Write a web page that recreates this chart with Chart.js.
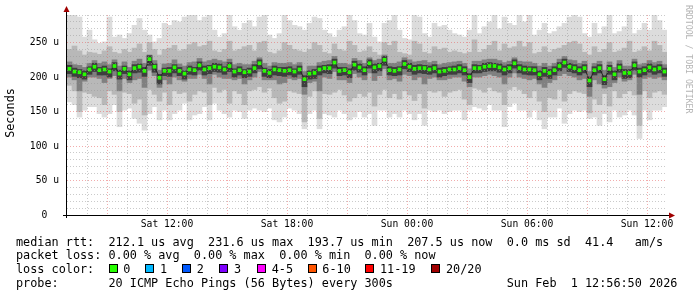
<!DOCTYPE html>
<html>
<head>
<meta charset="utf-8">
<script src="https://cdn.jsdelivr.net/npm/chart.js@4"></script>
<style>
  html, body { margin: 0; padding: 0; background: #fff; }
  #wrap { width: 697px; height: 297px; }
</style>
</head>
<body>
<div id="wrap"><canvas id="smoke" width="697" height="297"></canvas></div>
<script>
// SmokePing style graph, last 30 hours (Sat 07:00 .. Sun 13:00), one slot per 15 minutes
// values in microseconds

const median = [
  212,208,207,204,211,215,210,211,208,216,205,212,204,213,215,209,226,215,199,209,209,214,209,205,211,210,217,211,213,215,
  214,211,216,208,210,207,208,213,220,209,206,211,210,209,210,208,211,197,205,206,211,213,213,221,209,210,207,218,214,210,
  220,214,216,225,210,209,211,219,215,212,213,213,211,213,208,209,211,211,213,210,200,213,213,215,216,216,214,211,213,220,
  213,211,211,210,204,209,206,210,216,221,215,213,210,213,195,210,213,197,212,204,214,206,206,217,208,210,214,211,213,208
];

// outer smoke (min .. max of the 20 pings)
const outerHi = [
  290,290,287,258,268,254,249,251,287,258,261,256,263,275,285,268,261,251,256,278,275,282,280,287,290,290,282,287,290,268,
  258,263,290,273,268,278,282,273,287,290,261,256,263,290,282,275,273,268,278,287,285,268,263,258,268,273,290,282,263,261,
  278,258,251,278,282,290,268,256,254,290,287,263,258,278,273,275,268,263,261,258,268,290,263,273,280,290,270,287,278,275,
  290,280,290,261,268,278,263,266,273,278,287,290,287,263,258,278,263,273,290,263,266,273,290,263,268,278,268,290,282,268
];
const outerLo = [
  164,160,142,152,157,157,147,142,147,160,128,152,155,140,133,123,147,157,138,152,138,147,152,162,138,145,147,157,138,162,
  152,147,142,152,150,140,152,155,152,150,155,138,135,142,155,152,147,125,147,152,125,147,145,142,152,147,138,142,150,142,
  147,130,152,152,142,147,142,152,147,138,147,130,152,150,152,147,150,152,152,138,152,157,155,152,160,152,152,128,157,162,
  152,152,142,152,138,125,142,142,155,133,147,152,150,152,140,142,130,147,135,152,142,145,152,145,111,152,138,152,152,157
];

// middle smoke
const midHi = [
  240,245,238,232,236,235,233,238,244,236,234,240,236,242,248,236,250,240,232,240,242,246,238,240,247,250,244,246,252,238,
  236,240,252,238,240,244,246,238,250,252,236,234,238,250,246,240,238,236,240,250,246,236,234,248,240,238,252,246,236,238,
  244,236,232,250,246,252,236,234,232,252,248,236,234,244,240,242,236,238,236,234,236,254,236,240,246,252,238,248,242,244,
  252,244,250,234,236,244,236,240,242,246,250,252,248,236,232,244,236,240,250,236,238,242,252,236,238,244,238,252,246,236
];
const midLo = [
  188,180,150,178,176,172,170,160,180,175,150,178,176,162,168,145,182,175,165,178,160,180,176,178,165,175,180,178,160,185,
  178,182,162,180,176,160,180,182,186,178,184,170,162,165,180,178,176,135,172,180,140,176,175,178,182,174,165,170,176,172,
  178,158,175,182,170,176,168,180,174,166,176,155,180,178,180,172,178,180,182,168,160,184,182,178,185,180,178,160,182,186,
  182,176,170,180,165,150,170,168,182,165,176,180,178,176,148,168,160,176,158,180,170,176,180,174,130,180,170,178,180,175
];

// inner smoke
const innerHi = [
  222,218,217,214,220,224,220,222,218,225,216,222,214,223,226,220,232,224,210,219,220,225,219,216,221,222,227,222,224,226,
  224,222,226,218,220,218,218,223,228,220,216,221,220,220,221,218,221,208,216,216,221,223,224,230,220,220,218,227,224,220,
  228,224,226,232,220,220,222,228,225,222,223,224,221,223,218,220,221,222,223,220,212,223,223,225,226,226,224,221,223,228,
  223,222,222,220,216,220,216,220,226,230,225,224,220,223,208,220,223,210,222,214,224,216,216,226,218,220,224,221,223,218
];
const innerLo = [
  200,196,180,194,200,200,198,192,198,202,180,198,192,196,198,185,210,202,185,196,190,200,196,194,198,198,204,198,190,204,
  200,198,198,196,198,190,196,200,208,196,196,196,190,192,198,196,198,175,192,194,180,200,198,208,196,196,192,205,200,196,
  206,195,202,212,196,198,194,204,202,196,200,190,198,200,196,196,198,200,200,194,186,200,200,202,204,202,200,190,200,206,
  200,198,196,198,190,185,192,196,202,205,202,200,196,198,172,196,190,184,186,192,200,194,196,204,175,198,200,198,200,196
];

// darkest smoke right around the median
const coreHi = [
  217,213,211,209,215,220,214,216,212,221,210,216,209,218,219,214,231,219,204,213,214,218,214,209,216,214,222,216,217,220,
  219,215,221,212,215,211,213,218,225,213,211,216,214,214,215,212,216,202,209,211,216,217,218,226,214,214,212,223,219,215,
  225,219,220,230,215,214,215,224,220,217,218,217,216,218,213,214,215,216,218,215,205,218,217,220,221,220,219,216,218,225,
  218,216,215,215,209,214,211,215,221,226,220,218,215,218,200,215,218,202,217,209,219,211,211,222,213,215,219,216,218,213
];
const coreLo = [
  205,201,199,197,204,208,203,203,200,209,197,205,196,206,207,201,217,207,190,202,201,206,202,197,204,203,210,203,205,208,
  207,204,208,200,203,199,201,206,212,201,199,203,202,201,203,200,204,186,197,198,203,206,205,213,202,203,199,210,207,203,
  213,206,209,217,203,202,203,212,208,204,206,205,204,206,200,202,204,204,206,203,192,206,206,208,209,209,207,203,206,213,
  206,204,203,203,196,201,198,203,209,214,208,206,203,206,186,203,206,189,204,196,207,198,199,210,200,203,207,204,206,201
];

// hours after Sat 07:00 that carry a time label
const tickHours = [5, 11, 17, 23, 29];
const tickLabels = ['Sat 12:00', 'Sat 18:00', 'Sun 00:00', 'Sun 06:00', 'Sun 12:00'];

const legendLines = [
  'median rtt:  212.1 us avg  231.6 us max  193.7 us min  207.5 us now  0.0 ms sd  41.4   am/s',
  'packet loss: 0.00 % avg  0.00 % max  0.00 % min  0.00 % now',
  'loss color:',
  'probe:       20 ICMP Echo Pings (56 Bytes) every 300s                Sun Feb  1 12:56:50 2026'
];
const lossLabels = ['0', '1', '2', '3', '4-5', '6-10', '11-19', '20/20'];
const lossColors = ['#26ff00', '#00b8ff', '#0059ff', '#7e00ff', '#ff00ff', '#ff5500', '#ff0000', '#a00000'];

const MONO = "'DejaVu Sans Mono', monospace";
const minorGrid = 'rgba(150,150,150,0.5)';
const majorGrid = 'rgba(230,90,90,0.5)';
const none = 'rgba(0,0,0,0)';
const startHour = 7;
const slotsPerHour = 4;

Chart.defaults.font.family = MONO;
Chart.defaults.color = '#000';

const slots = median.map((_, i) => {
  const m = (startHour * 60 + i * 15) % 1440;
  return String(Math.floor(m / 60)).padStart(2, '0') + ':' + String(m % 60).padStart(2, '0');
});

function band(lo, hi) {
  return lo.map((v, i) => [v, hi[i]]);
}

const barCommon = {
  type: 'bar',
  grouped: false,
  categoryPercentage: 1,
  barPercentage: 1,
  borderWidth: 0
};

// vertical grid at slot boundaries: hour lines, red every third hour
function xGridColor(c) {
  const i = c.index;
  if (i === undefined || i === 0 || i >= median.length || i % slotsPerHour) return none;
  return (startHour + i / slotsPerHour) % 3 === 0 ? majorGrid : minorGrid;
}

// axes, arrows, rotated texts and the legend under the plot
const decorations = {
  id: 'decorations',
  afterDraw(chart) {
    const ctx = chart.ctx;
    const a = chart.chartArea;
    ctx.save();

    ctx.strokeStyle = '#000';
    ctx.lineWidth = 1;
    ctx.beginPath();
    ctx.moveTo(a.left - 0.5, a.bottom + 3);
    ctx.lineTo(a.left - 0.5, a.top - 6);
    ctx.moveTo(a.left - 4, a.bottom + 0.5);
    ctx.lineTo(a.right + 5, a.bottom + 0.5);
    ctx.stroke();

    ctx.fillStyle = '#a00000';
    ctx.beginPath();
    ctx.moveTo(a.left - 0.5, a.top - 9);
    ctx.lineTo(a.left - 3.5, a.top - 3);
    ctx.lineTo(a.left + 2.5, a.top - 3);
    ctx.closePath();
    ctx.fill();
    ctx.beginPath();
    ctx.moveTo(a.right + 8, a.bottom + 0.5);
    ctx.lineTo(a.right + 2, a.bottom - 2.5);
    ctx.lineTo(a.right + 2, a.bottom + 3.5);
    ctx.closePath();
    ctx.fill();

    // unit label
    ctx.fillStyle = '#000';
    ctx.font = '11.8px ' + MONO;
    ctx.textAlign = 'center';
    ctx.textBaseline = 'middle';
    ctx.save();
    ctx.translate(11, 113);
    ctx.rotate(-Math.PI / 2);
    ctx.fillText('Seconds', 0, 0);
    ctx.restore();

    // watermark
    ctx.save();
    ctx.fillStyle = '#b4b4b4';
    ctx.font = '8.2px ' + MONO;
    ctx.textAlign = 'left';
    ctx.translate(688, 5);
    ctx.rotate(Math.PI / 2);
    ctx.fillText('RRDTOOL / TOBI OETIKER', 0, 0);
    ctx.restore();

    // legend
    ctx.font = '11.82px ' + MONO;
    ctx.textAlign = 'left';
    ctx.textBaseline = 'alphabetic';
    const baselines = [245.5, 259.3, 273.1, 286.9];
    legendLines.forEach((t, i) => ctx.fillText(t, 16, baselines[i]));

    const labelX = [123.3, 160, 196.7, 234, 271.7, 322.3, 380, 446];
    lossLabels.forEach((t, i) => {
      const bx = Math.round(labelX[i] - 14.8);
      ctx.fillStyle = lossColors[i];
      ctx.fillRect(bx, 264, 9, 9);
      ctx.strokeStyle = '#000';
      ctx.strokeRect(bx + 0.5, 264.5, 8, 8);
      ctx.fillStyle = '#000';
      ctx.fillText(t, labelX[i], baselines[2]);
    });
    ctx.restore();
  }
};

new Chart(document.getElementById('smoke'), {
  type: 'bar',
  data: {
    labels: slots,
    datasets: [
      {
        type: 'line',
        label: 'median rtt',
        data: median,
        order: 0,
        borderColor: '#262626',
        borderWidth: 1,
        pointStyle: 'rect',
        pointRadius: 2.6,
        pointBorderWidth: 0,
        pointBackgroundColor: lossColors[0]
      },
      { ...barCommon, label: 'core', data: band(coreLo, coreHi), backgroundColor: '#3e3e3e', order: 1 },
      { ...barCommon, label: 'inner', data: band(innerLo, innerHi), backgroundColor: '#808080', order: 2 },
      { ...barCommon, label: 'middle', data: band(midLo, midHi), backgroundColor: '#b8b8b8', order: 3 },
      { ...barCommon, label: 'outer', data: band(outerLo, outerHi), backgroundColor: '#dcdcdc', order: 4 }
    ]
  },
  options: {
    responsive: false,
    animation: false,
    events: [],
    devicePixelRatio: 1,
    layout: { padding: { left: 0, right: 30, top: 15, bottom: 0 } },
    plugins: { legend: { display: false }, tooltip: { enabled: false } },
    scales: {
      x: {
        type: 'category',
        offset: true,
        afterFit: s => { s.height = 82; },
        border: { display: false, dash: [1, 2] },
        grid: { z: 1, offset: true, drawTicks: false, color: xGridColor },
        ticks: {
          autoSkip: false,
          maxRotation: 0,
          minRotation: 0,
          padding: 4,
          labelOffset: -2.5,
          font: { size: 9.7 },
          callback: (v, i) => {
            const k = tickHours.indexOf(i / slotsPerHour);
            return k < 0 ? '' : tickLabels[k];
          }
        }
      },
      y: {
        min: 0,
        max: 290,
        stacked: false,
        afterFit: s => { s.width = 67; },
        border: { display: false, dash: [1, 2] },
        grid: {
          z: 1,
          drawTicks: false,
          color: c => (c.tick && c.tick.value > 0 ? (c.tick.value % 50 === 0 ? majorGrid : minorGrid) : none)
        },
        ticks: {
          stepSize: 10,
          autoSkip: false,
          padding: 8,
          font: { size: 9.7 },
          callback: v => (v % 50 ? '' : (v === 0 ? '0  ' : v + ' u'))
        }
      }
    }
  },
  plugins: [decorations]
});
</script>
</body>
</html>
